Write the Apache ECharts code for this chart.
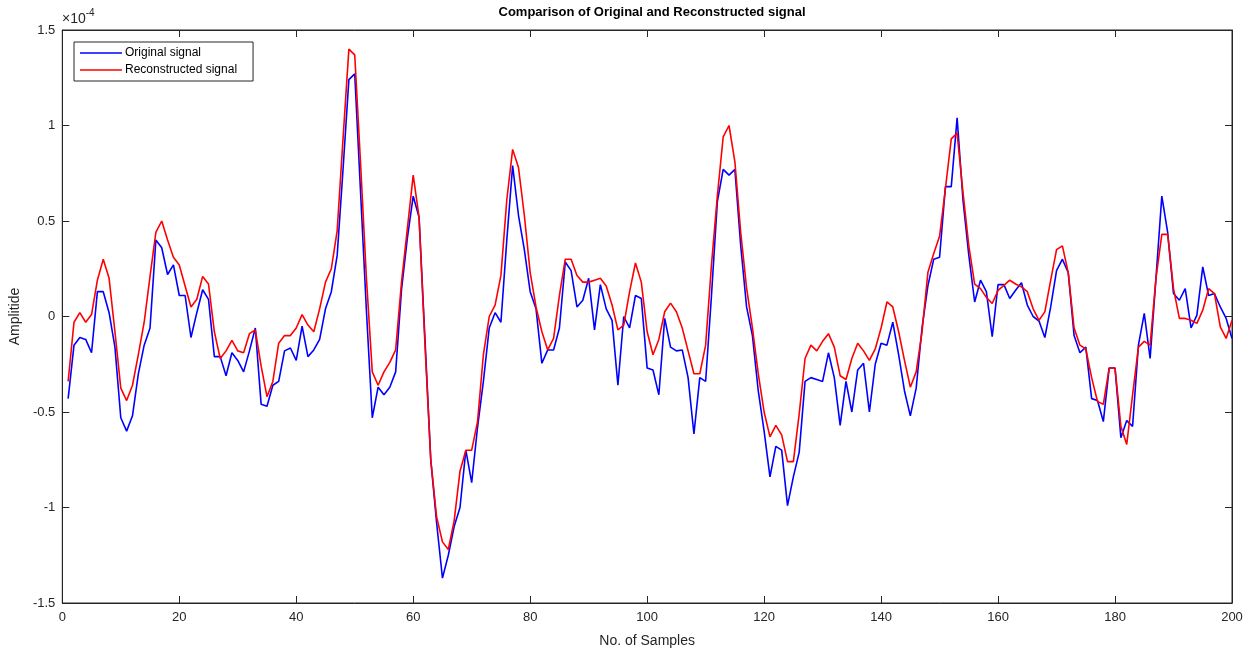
<!DOCTYPE html>
<html>
<head>
  <meta charset="utf-8">
  <title>Comparison of Original and Reconstructed signal</title>
  <script src="https://cdn.jsdelivr.net/npm/echarts@6/dist/echarts.min.js"></script>
  <style>
    html, body { margin: 0; padding: 0; background: #fff; }
    #chart { width: 1256px; height: 653px; }
  </style>
</head>
<body>
  <div id="chart"></div>
  <script type="application/javascript">
      // amplitudes in units of 1e-4, sample index starts at 1
      var original = [
          -0.43, -0.15, -0.11, -0.12, -0.19, 0.13, 0.13, 0.02, -0.16, -0.53,
          -0.60, -0.52, -0.30, -0.15, -0.06, 0.40, 0.36, 0.22, 0.27, 0.11,
          0.11, -0.11, 0.02, 0.14, 0.09, -0.21, -0.21, -0.31, -0.19, -0.23,
          -0.29, -0.18, -0.06, -0.46, -0.47, -0.36, -0.34, -0.18, -0.165, -0.23,
          -0.05, -0.21, -0.175, -0.12, 0.04, 0.13, 0.32, 0.77, 1.24, 1.27,
          0.65, 0.03, -0.53, -0.37, -0.41, -0.37, -0.29, 0.14, 0.41, 0.63,
          0.52, -0.11, -0.75, -1.08, -1.37, -1.25, -1.10, -1.00, -0.70, -0.87,
          -0.58, -0.34, -0.06, 0.02, -0.03, 0.40, 0.79, 0.53, 0.35, 0.13,
          0.04, -0.245, -0.175, -0.175, -0.06, 0.285, 0.24, 0.05, 0.085, 0.20,
          -0.07, 0.167, 0.04, -0.02, -0.36, 0.00, -0.06, 0.11, 0.094, -0.27,
          -0.28, -0.41, -0.01, -0.16, -0.18, -0.175, -0.32, -0.615, -0.32, -0.34,
          0.11, 0.60, 0.77, 0.74, 0.77, 0.37, 0.05, -0.10, -0.39, -0.60,
          -0.84, -0.68, -0.70, -0.99, -0.84, -0.71, -0.34, -0.32, -0.33, -0.34,
          -0.19, -0.32, -0.57, -0.34, -0.50, -0.28, -0.245, -0.50, -0.25, -0.14,
          -0.15, -0.03, -0.20, -0.39, -0.52, -0.375, -0.06, 0.16, 0.30, 0.31,
          0.68, 0.68, 1.04, 0.61, 0.32, 0.076, 0.19, 0.13, -0.106, 0.167,
          0.167, 0.094, 0.137, 0.177, 0.06, 0.00, -0.024, -0.11, 0.05, 0.24,
          0.30, 0.23, -0.10, -0.19, -0.16, -0.43, -0.44, -0.55, -0.27, -0.27,
          -0.635, -0.545, -0.575, -0.15, 0.016, -0.22, 0.20, 0.63, 0.44, 0.12,
          0.085, 0.146, -0.06, 0.007, 0.26, 0.11, 0.12, 0.05, -0.01, -0.115
      ];
      var reconstructed = [
          -0.34, -0.03, 0.02, -0.03, 0.01, 0.19, 0.30, 0.20, -0.08, -0.375,
          -0.44, -0.36, -0.20, -0.03, 0.21, 0.44, 0.50, 0.40, 0.31, 0.27,
          0.16, 0.05, 0.09, 0.21, 0.17, -0.08, -0.22, -0.18, -0.125, -0.18,
          -0.19, -0.09, -0.07, -0.26, -0.42, -0.34, -0.14, -0.10, -0.10, -0.06,
          0.01, -0.045, -0.08, 0.04, 0.18, 0.25, 0.45, 0.93, 1.40, 1.37,
          0.80, 0.20, -0.29, -0.36, -0.29, -0.24, -0.175, 0.18, 0.46, 0.74,
          0.52, -0.14, -0.75, -1.05, -1.18, -1.22, -1.07, -0.81, -0.70, -0.70,
          -0.55, -0.20, 0.00, 0.06, 0.215, 0.61, 0.875, 0.78, 0.53, 0.23,
          0.05, -0.08, -0.175, -0.115, 0.11, 0.30, 0.30, 0.215, 0.18, 0.18,
          0.19, 0.20, 0.16, 0.06, -0.07, -0.045, 0.13, 0.28, 0.18, -0.08,
          -0.20, -0.12, 0.025, 0.07, 0.025, -0.06, -0.18, -0.30, -0.30, -0.15,
          0.27, 0.63, 0.94, 1.00, 0.81, 0.44, 0.15, -0.06, -0.30, -0.50,
          -0.63, -0.57, -0.62, -0.76, -0.76, -0.51, -0.22, -0.15, -0.18, -0.13,
          -0.09, -0.16, -0.31, -0.33, -0.22, -0.14, -0.18, -0.23, -0.17, -0.06,
          0.076, 0.05, -0.08, -0.23, -0.37, -0.29, -0.08, 0.23, 0.33, 0.42,
          0.67, 0.93, 0.96, 0.65, 0.37, 0.17, 0.146, 0.10, 0.068, 0.137,
          0.163, 0.19, 0.17, 0.155, 0.13, 0.04, -0.02, 0.024, 0.19, 0.35,
          0.37, 0.23, -0.06, -0.15, -0.17, -0.32, -0.445, -0.46, -0.27, -0.27,
          -0.575, -0.67, -0.41, -0.16, -0.13, -0.15, 0.20, 0.43, 0.43, 0.146,
          -0.01, -0.01, -0.02, -0.036, 0.033, 0.146, 0.12, -0.054, -0.115, -0.02
      ];
      var xTicks = [0, 20, 40, 60, 80, 100, 120, 140, 160, 180, 200];
      var yTicks = [-1.5, -1, -0.5, 0, 0.5, 1, 1.5];

      function pairs(arr) {
          var out = [];
          for (var i = 0; i < arr.length; i++) out.push([i + 1, arr[i]]);
          return out;
      }

      var ink = '#262626';
      var font = 'Liberation Sans, Arial, sans-serif';

      var myChart = echarts.init(document.getElementById('chart'));

      var xBase = {
          type: 'value',
          min: xTicks[0],
          max: xTicks[xTicks.length - 1],
          interval: 20,
          splitLine: { show: false },
          axisLine: { show: true, onZero: false, lineStyle: { color: ink, width: 1 } },
          axisTick: { show: true, inside: true, length: 7, lineStyle: { color: ink } }
      };
      var yBase = {
          type: 'value',
          min: yTicks[0],
          max: yTicks[yTicks.length - 1],
          interval: 0.5,
          splitLine: { show: false },
          axisLine: { show: true, onZero: false, lineStyle: { color: ink, width: 1 } },
          axisTick: { show: true, inside: true, length: 7, lineStyle: { color: ink } }
      };

      myChart.setOption({
          backgroundColor: '#ffffff',
          animation: false,
          title: {
              text: 'Comparison of Original and Reconstructed signal',
              left: 647,
              top: 1,
              textAlign: 'center',
              textStyle: { fontFamily: font, fontSize: 13, fontWeight: 'bold', color: '#000' }
          },
          legend: {
              data: ['Original signal', 'Reconstructed signal'],
              orient: 'vertical',
              left: 74,
              top: 42,
              icon: 'rect',
              itemWidth: 42,
              itemHeight: 1.5,
              itemGap: 5,
              padding: [5, 16, 5, 6],
              borderColor: ink,
              borderWidth: 1,
              backgroundColor: '#fff',
              borderRadius: 0,
              textStyle: { fontFamily: font, fontSize: 12, color: '#000', padding: [0, 0, 0, -2] }
          },
          grid: {
              left: 62,
              right: 24,
              top: 30,
              bottom: 47,
              show: true,
              borderColor: ink,
              borderWidth: 1
          },
          xAxis: [
              Object.assign({}, xBase, {
                  position: 'bottom',
                  name: 'No. of Samples',
                  nameLocation: 'middle',
                  nameGap: 31,
                  nameTextStyle: { fontFamily: font, fontSize: 14, color: ink },
                  axisLabel: { fontFamily: font, fontSize: 13, color: ink, margin: 8 }
              }),
              Object.assign({}, xBase, {
                  position: 'top',
                  axisLabel: { show: false }
              })
          ],
          yAxis: [
              Object.assign({}, yBase, {
                  position: 'left',
                  name: 'Amplitide',
                  nameLocation: 'middle',
                  nameGap: 33,
                  nameRotate: 90,
                  nameTextStyle: { fontFamily: font, fontSize: 14, color: ink },
                  axisLabel: { fontFamily: font, fontSize: 13, color: ink, margin: 7 }
              }),
              Object.assign({}, yBase, {
                  position: 'right',
                  axisLabel: { show: false }
              })
          ],
          graphic: [{
              type: 'text',
              left: 62,
              top: 8,
              style: {
                  text: '{a|×10}{b|-4}',
                  rich: {
                      a: { fontFamily: font, fontSize: 14, fill: ink, verticalAlign: 'bottom' },
                      b: { fontFamily: font, fontSize: 10, fill: ink, verticalAlign: 'top', padding: [0, 0, 8, 0] }
                  }
              }
          }],
          series: [
              {
                  name: 'Original signal',
                  type: 'line',
                  xAxisIndex: 0,
                  yAxisIndex: 0,
                  symbol: 'none',
                  lineStyle: { color: '#0000ff', width: 1.6 },
                  itemStyle: { color: '#0000ff' },
                  data: pairs(original)
              },
              {
                  name: 'Reconstructed signal',
                  type: 'line',
                  xAxisIndex: 0,
                  yAxisIndex: 0,
                  symbol: 'none',
                  lineStyle: { color: '#ff0000', width: 1.6 },
                  itemStyle: { color: '#ff0000' },
                  data: pairs(reconstructed)
              }
          ]
      });
  </script>
</body>
</html>
